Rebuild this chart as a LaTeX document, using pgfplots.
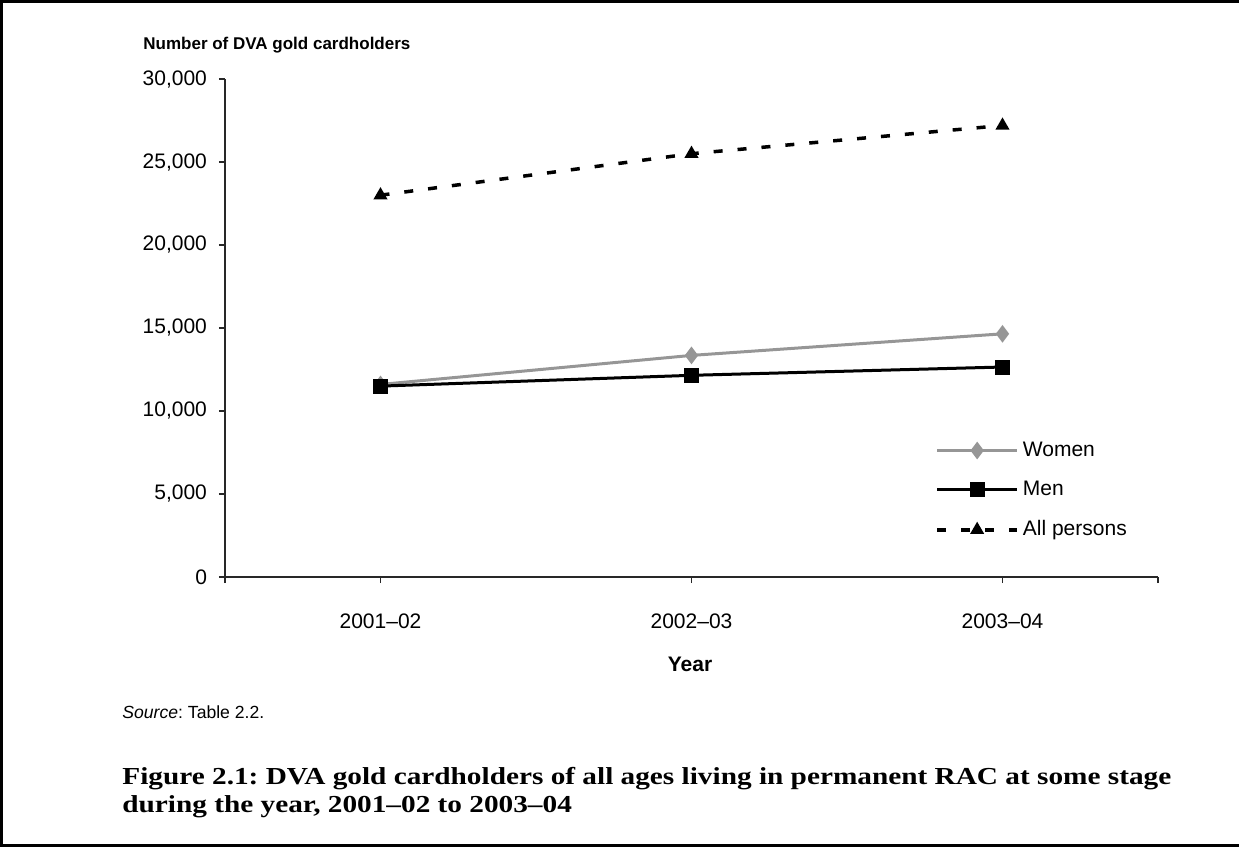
\documentclass[border=0pt]{standalone}
\usepackage{pgfplots}
\pgfplotsset{compat=1.18}
\usepackage{fontspec}
\setmainfont{Liberation Sans}
\newfontfamily\capfont[FakeStretch=1.2]{Liberation Serif}
\definecolor{womengray}{RGB}{150,150,150}
\definecolor{axisgray}{RGB}{40,40,40}
\frenchspacing
\begin{document}
\begin{tikzpicture}
\path[use as bounding box] (0,0) rectangle (619.5pt,-423.5pt);
\draw[line width=1.5pt] (619.5pt,-0.75pt) -- (0.75pt,-0.75pt) -- (0.75pt,-422.75pt) -- (619.5pt,-422.75pt);
\begin{axis}[
  at={(112.5pt,-288.5pt)}, anchor=south west,
  scale only axis, width=466.5pt, height=249pt,
  xmin=0, xmax=3, ymin=0, ymax=30000,
  axis lines=left,
  axis line style={-, line width=0.6pt, color=axisgray},
  xtick={0.5,1.5,2.5}, xticklabels={2001–02,2002–03,2003–04},
  extra x ticks={0,3}, extra x tick labels={},
  ytick={0,5000,10000,15000,20000,25000,30000},
  scaled y ticks=false,
  tick align=outside, major tick length=3pt,
  tick style={line width=0.6pt, color=axisgray},
  /pgf/number format/.cd, 1000 sep={,}, assume math mode=true, /pgfplots/.cd,
  ticklabel style={font=\fontsize{10.5}{12}\selectfont},
  xticklabel style={yshift=-12pt},
  yticklabel style={xshift=-2.5pt},
  clip=false,
  legend style={draw=none, fill=none, at={(0.761,0.174)}, anchor=west,
    font=\fontsize{10.5}{12}\selectfont, row sep=7pt, inner sep=0pt},
  legend cell align=left,
  legend image code/.code={\draw[mark repeat=2,mark phase=2,#1] plot coordinates {(0pt,0pt) (20pt,0pt) (40pt,0pt)};},
]
\addplot[color=womengray, line width=1.5pt, mark=diamond*, mark size=3.2pt, mark options={solid, fill=womengray}]
  coordinates {(0.5,11600) (1.5,13350) (2.5,14650)};
\addlegendentry{Women}
\addplot[color=black, line width=1.5pt, mark=square*, mark size=3pt, mark options={solid, fill=black}]
  coordinates {(0.5,11500) (1.5,12150) (2.5,12650)};
\addlegendentry{Men}
\addplot[color=black, line width=1.75pt, dash pattern=on 4.5pt off 7.5pt, mark=triangle*, mark size=2.3pt, mark options={solid, fill=black}]
  coordinates {(0.5,23000) (1.5,25500) (2.5,27200)};
\addlegendentry{All persons}
\end{axis}
\node[anchor=west, inner sep=0pt, font=\bfseries\fontsize{8.5}{10}\selectfont] at (71.5pt,-22.5pt) {Number of DVA gold cardholders};
\node[font=\bfseries\fontsize{10.5}{12}\selectfont] at (345pt,-332pt) {Year};
\node[anchor=base west, inner sep=0pt, font=\fontsize{8.8}{10}\selectfont] at (61pt,-359pt) {\textit{Source}: Table 2.2.};
\node[anchor=base west, inner sep=0pt, font=\capfont\bfseries\fontsize{12.2}{14}\selectfont] at (61pt,-392pt) {Figure 2.1: DVA gold cardholders of all ages living in permanent RAC at some stage};
\node[anchor=base west, inner sep=0pt, font=\capfont\bfseries\fontsize{12.2}{14}\selectfont] at (61pt,-406pt) {during the year, 2001–02 to 2003–04};
\end{tikzpicture}
\end{document}
